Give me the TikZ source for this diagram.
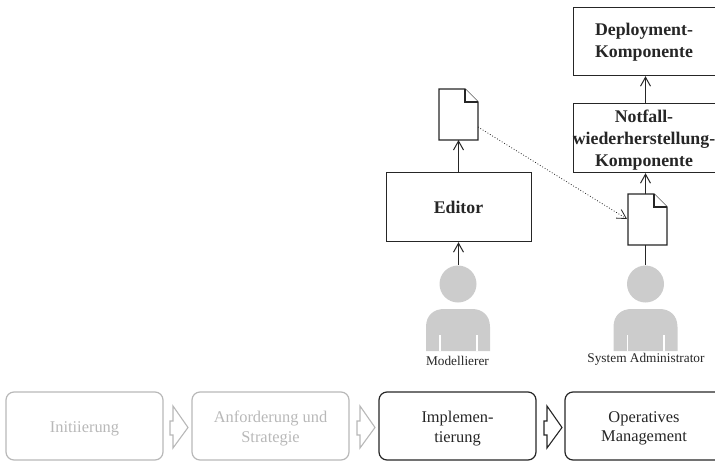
\documentclass[tikz,border=0pt]{standalone}
\usepackage{fontspec}
\setmainfont{Liberation Serif}
\usetikzlibrary{arrows.meta}
\definecolor{fade}{gray}{0.72}
\definecolor{figure}{gray}{0.80}
\definecolor{ink}{gray}{0.15}
\tikzset{
  x=1pt,y=-1pt,
  comp/.style={draw=ink,line width=1.2pt,fill=white,inner sep=0pt},
  comptext/.style={inner sep=0pt,align=center,font=\fontsize{17.8}{22}\selectfont\bfseries,text=ink},
  phase/.style={draw=ink,line width=1.2pt,rounded corners=8pt,inner sep=0pt,minimum width=157pt,minimum height=68pt},
  phasetext/.style={inner sep=0pt,align=center,font=\fontsize{16.4}{19.5}\selectfont,text=ink},
  faded/.style={draw=fade},
  fadedtext/.style={text=fade},
  flow/.style={draw=ink,line width=1.2pt,-{Straight Barb[length=9pt,width=10pt,line width=1pt]}},
  plain/.style={draw=ink,line width=1.2pt},
  dots/.style={draw=ink,line width=.8pt,dotted,-{Straight Barb[length=9pt,width=10pt,line width=.8pt]}},
  doc/.style={draw=ink,line width=1.2pt,fill=white,line join=miter},
  who/.style={font=\fontsize{13.3}{15}\selectfont,text=ink,inner sep=0pt},
  chev/.style={line width=1.1pt,fill=white},
}
\newcommand{\docicon}[2]{% x y top-left
  \draw[doc] (#1,#2) -- ++(26,0) -- ++(13,13) -- ++(0,38) -- ++(-39,0) -- cycle;
  \draw[doc] (#1+26,#2) -- ++(0,13) -- ++(13,0);
}
\newcommand{\person}[1]{% x centre
  \fill[figure] (#1,284) circle (18.5);
  \fill[figure] (#1-32,351) -- (#1-32,327) .. controls (#1-32,315) and (#1-24,309) .. (#1-14,309) -- (#1+14,309) .. controls (#1+24,309) and (#1+32,315) .. (#1+32,327) -- (#1+32,351) -- cycle;
  \fill[white] (#1-19,335) rectangle (#1-17.2,351);
  \fill[white] (#1+17.8,335) rectangle (#1+19.6,351);
}
\newcommand{\chevron}[2][ink]{% left x
  \draw[chev,draw=#1] (#2,421) -- (#2+3,421) -- (#2+3,406) -- (#2+18,427.5) -- (#2+3,448) -- (#2+3,435) -- (#2,435) -- cycle;
}
\begin{document}
\begin{tikzpicture}
\useasboundingbox (0,0) rectangle (715,461);
% components
\node[comp,minimum width=142pt,minimum height=68pt,anchor=north west] (deploy) at (573,7) {};
\node[comptext] (deployT) at (644,42.5) {Deployment-\\Komponente};
\node[comp,minimum width=142pt,minimum height=69pt,anchor=north west] (notfall) at (573,103) {};
\node[comptext] (notfallT) at (644,140) {Notfall-\\wiederherstellung-\\Komponente};
\node[comp,minimum width=145pt,minimum height=69pt,anchor=north west] (editor) at (386,172) {};
\node[comptext] (editorT) at (458.5,207) {Editor};
% documents
\docicon{439}{89}
\docicon{628}{194}
\coordinate (docAbot) at (458.5,140);
\coordinate (docAright) at (478,127);
\coordinate (docBleft) at (627,219);
\coordinate (docBtop) at (645.5,194);
\coordinate (docBbot) at (645.5,245);
\coordinate (pA) at (458.5,265);
\coordinate (pB) at (645.5,265);
% connectors
\draw[flow] (pA) -- (editor.south -| pA);
\draw[flow] (editor.north -| pA) -- (docAbot);
\draw[plain] (pB) -- (docBbot);
\draw[flow] (docBtop) -- (notfall.south -| docBtop);
\draw[flow] (notfall.north -| docBtop) -- (deploy.south -| docBtop);
\draw[dots] (docAright) -- (docBleft);
% people
\person{458}
\person{645.5}
\node[who] (modlab) at (457.5,361) {Modellierer};
\node[who] (adminlab) at (646,359.5) {System Administrator};
% phases
\node[phase,faded] (p1) at (84.5,426) {};
\node[phasetext,fadedtext] (p1T) at (84.5,429) {Initiierung};
\node[phase,faded] (p2) at (270.5,426) {};
\node[phasetext,fadedtext] (p2T) at (270.5,428.5) {Anforderung und\\Strategie};
\node[phase] (p3) at (457.5,426) {};
\node[phasetext] (p3T) at (457.5,428.5) {Implemen-\\tierung};
\draw[draw=ink,line width=1.2pt,rounded corners=8pt] (717,392) -- (565,392) -- (565,460) -- (717,460);
\node[phasetext] (p4T) at (644,428.5) {Operatives\\Management};
\chevron[fade]{170}
\chevron[fade]{357}
\chevron[ink]{544}
\end{tikzpicture}
\end{document}
